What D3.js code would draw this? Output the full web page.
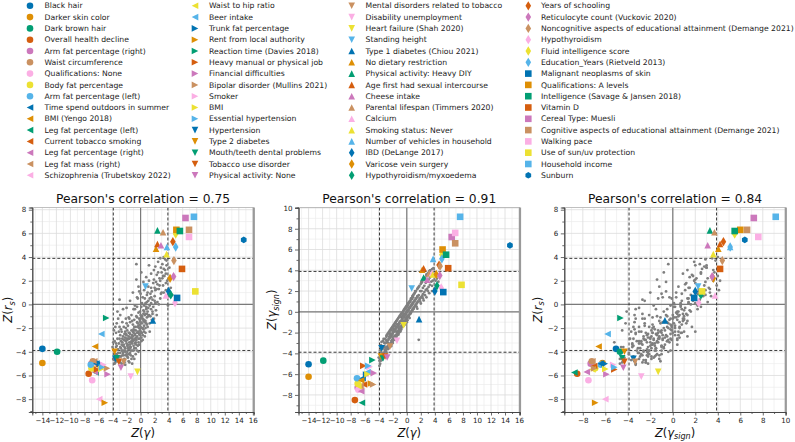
<!DOCTYPE html>
<html><head><meta charset="utf-8">
<script src="https://cdn.jsdelivr.net/npm/d3@7"></script>
<style>body{margin:0;background:#fff} svg{display:block} text{font-family:"DejaVu Sans",sans-serif}</style>
</head><body><svg id="c" width="795" height="442"></svg>
<script>
const traitNames = [
"Black hair","Darker skin color","Dark brown hair","Overall health decline","Arm fat percentage (right)","Waist circumference","Qualifications: None","Body fat percentage","Arm fat percentage (left)","Time spend outdoors in summer","BMI (Yengo 2018)","Leg fat percentage (left)","Current tobacco smoking","Leg fat percentage (right)","Leg fat mass (right)","Schizophrenia (Trubetskoy 2022)",
"Waist to hip ratio","Beer intake","Trunk fat percentage","Rent from local authority","Reaction time (Davies 2018)","Heavy manual or physical job","Financial difficulties","Bipolar disorder (Mullins 2021)","Smoker","BMI","Essential hypertension","Hypertension","Type 2 diabetes","Mouth/teeth dental problems","Tobacco use disorder","Physical activity: None",
"Mental disorders related to tobacco","Disability unemployment","Heart failure (Shah 2020)","Standing height","Type 1 diabetes (Chiou 2021)","No dietary restriction","Physical activity: Heavy DIY","Age first had sexual intercourse","Cheese intake","Parental lifespan (Timmers 2020)","Calcium","Smoking status: Never","Number of vehicles in household","IBD (DeLange 2017)","Varicose vein surgery","Hypothyroidism/myxoedema",
"Years of schooling","Reticulocyte count (Vuckovic 2020)","Noncognitive aspects of educational attainment (Demange 2021)","Hypothyroidism","Fluid intelligence score","Education_Years (Rietveld 2013)","Malignant neoplasms of skin","Qualifications: A levels","Intelligence (Savage & Jansen 2018)","Vitamin D","Cereal Type: Muesli","Cognitive aspects of educational attainment (Demange 2021)","Walking pace","Use of sun/uv protection","Household income","Sunburn"];

const zGamma = [-14.0,-14.0,-11.9,-7.4,-7.0,-6.8,-6.9,-7.0,-7.1,-6.3,-6.5,-6.4,-6.1,-6.5,-6.6,-5.9,
-6.9,-5.6,-5.8,-5.1,-4.9,-6.2,-4.7,-4.8,-5.3,-5.6,-5.5,-3.6,-3.7,-3.4,-3.1,-2.8,
-2.4,-1.4,-0.45,0.7,1.75,2.2,2.4,2.4,2.9,3.2,3.6,3.7,3.75,4.0,4.2,4.3,
4.6,4.7,4.75,4.9,5.0,5.0,5.2,5.1,5.6,5.9,6.4,6.9,6.9,7.8,7.6,14.7];
const zGammaSign = [-5.05,-6.25,-4.7,-8.5,-7.3,-7.2,-7.5,-6.9,-6.4,-6.4,-6.6,-8.75,-7.0,-7.65,-7.15,-6.0,
-7.15,-5.8,-6.05,-6.9,-4.65,-5.2,-5.9,-7.0,-5.3,-6.0,-5.2,-3.5,-4.3,-4.5,-4.3,-4.4,
-3.35,-2.8,-1.3,2.25,-0.7,4.05,3.3,4.2,3.1,3.7,3.75,3.6,5.1,2.0,3.6,2.5,
4.5,3.5,4.4,2.3,5.5,5.1,1.9,6.0,5.5,4.2,7.2,6.6,7.6,2.6,9.15,6.4];
const zRs = [-3.75,-4.95,-4.0,-5.85,-5.0,-4.8,-6.4,-5.4,-5.1,-5.0,-3.55,-5.75,-5.2,-5.7,-4.8,-8.0,
-5.5,-2.5,-5.0,-8.3,-1.15,-5.5,-5.9,-5.4,-5.1,-5.45,-5.3,-4.6,-4.0,-4.55,-4.85,-5.35,
-4.85,-6.1,-5.7,1.5,-1.35,4.7,6.25,5.1,5.0,6.1,0.75,4.25,4.85,1.1,2.2,0.8,
5.3,2.35,3.7,0.15,5.95,4.85,0.55,6.3,6.2,3.0,7.3,6.3,5.7,1.1,7.4,5.45];

// background traits: [Z(gamma), Z(gamma_sign), Z(r_s)]
const grayTraits = [
[-3.9,-4.7,-4.6],[-3.7,-3.2,-3.1],[-3.6,-4.5,-4.9],[-3.5,-3.3,-2.4],[-3.4,-2.8,-4.2],[-3.3,-4.1,-0.6],[-3.2,-3.9,-3.8],[-3.1,-2.6,-4.7],[-3.0,-3.8,-2.9],[-3.0,-2.7,0.4],
[-2.9,-3.6,-3.6],[-2.8,-2.2,-4.4],[-2.8,-3.4,-2.1],[-2.7,-3.3,-5.0],[-2.6,-2.0,-3.2],[-2.6,-3.4,-1.5],[-2.5,-3.1,-4.1],[-2.5,-1.9,-2.7],[-2.4,-3.2,-3.9],[-2.4,-2.1,-1.9],
[-2.3,-3.0,-4.6],[-2.3,-1.7,-3.0],[-2.2,-2.8,-2.3],[-2.2,-3.1,-3.7],[-2.1,-1.5,-4.3],[-2.1,-2.7,-1.2],[-2.0,-2.8,-3.3],[-2.0,-1.4,-2.6],[-1.9,-2.6,-4.0],[-1.9,-1.6,-3.5],
[-1.8,-1.2,-2.9],[-1.8,-2.5,-1.8],[-1.7,-2.3,-3.8],[-1.7,-1.1,-4.8],[-1.6,-2.4,-2.4],[-1.6,-1.4,-3.2],[-1.5,-0.9,-1.5],[-1.5,-2.2,-4.1],[-1.4,-2.0,-2.8],[-1.4,-0.8,-3.6],
[-1.3,-1.9,-2.2],[-1.3,-2.1,-0.9],[-1.2,-1.8,-3.3],[-1.2,-0.6,-2.6],[-1.1,-1.6,-4.4],[-1.1,-1.8,-1.7],[-1.0,-0.4,-3.0],[-1.0,-1.6,-2.1],[-0.9,-1.5,-3.7],[-0.9,-0.3,-1.3],
[-0.8,-1.4,-2.5],[-0.8,-0.5,-0.4],[-0.7,-1.3,-3.2],[-0.7,-0.1,-1.9],[-0.6,-1.2,-2.8],[-0.6,-0.4,3.4],[-0.5,-1.1,-1.1],[-0.5,-0.2,-3.9],[-0.4,0.2,-2.3],[-0.4,-1.1,-1.6],
[-0.3,-0.9,-2.9],[-0.3,0.3,-0.7],[-0.2,-0.8,-2.0],[-0.2,0.4,-3.4],[-0.1,-0.7,-1.4],[-0.1,0.5,-2.6],[0.0,-0.6,-0.9],[0.0,0.6,-1.9],[0.1,-0.5,-3.1],[0.1,0.7,-0.2],
[0.2,-0.4,-1.6],[0.2,0.8,-2.4],[0.3,-0.3,0.6],[0.3,0.9,-1.2],[0.4,-0.2,-2.1],[0.4,1.0,-0.5],[0.5,-0.1,-1.8],[0.5,1.1,1.2],[0.6,0.0,-0.9],[0.6,1.3,-2.7],
[0.7,0.1,0.1],[0.7,1.3,-1.4],[0.8,0.2,-0.2],[0.8,1.5,2.3],[0.9,0.3,-1.1],[0.9,1.6,0.8],[1.0,0.4,-0.6],[1.0,1.7,-1.9],[1.1,0.5,1.5],[1.1,1.8,0.3],
[1.2,0.6,-0.9],[1.2,1.9,2.0],[1.3,0.7,-0.1],[1.3,2.0,-2.3],[1.4,0.8,0.9],[1.5,2.2,-0.4],[1.5,0.9,2.6],[1.6,2.3,1.1],[1.6,1.0,-1.3],[1.7,-2.7,-0.8],
[1.7,2.4,0.4],[1.8,1.2,1.8],[1.8,2.5,-0.2],[1.9,1.3,2.9],[2.0,2.7,0.7],[2.0,1.4,1.4],[2.1,2.8,3.2],[2.2,1.5,-0.5],[2.2,2.9,1.9],[2.3,1.7,2.5],
[2.4,3.1,0.2],[2.5,1.9,3.6],[2.6,3.3,1.3],[2.7,2.1,2.2],[2.8,3.5,3.9],[2.9,2.2,0.9],[3.0,3.7,2.7],[3.1,2.4,3.4],[3.2,3.9,1.6],[3.3,2.6,3.0],
[3.4,4.0,2.4],[3.5,2.9,3.8],[3.6,4.1,1.2],[3.7,3.0,3.3],[3.8,4.2,2.0],[4.0,3.4,0.7],[4.1,3.0,3.1],[4.3,3.2,1.4],[4.5,2.9,0.8],[3.9,2.2,-0.1],
[-3.8,-5.0,-3.9],[-3.6,-2.9,-4.4],[-3.5,-4.6,-3.6],[-3.3,-2.6,-2.9],[-3.2,-4.3,-4.5],[-3.1,-3.0,-3.3],[-2.9,-2.3,-2.6],[-2.9,-3.9,-4.1],[-2.7,-3.6,-3.4],[-2.7,-2.1,-3.9],
[-2.6,-3.5,-2.9],[-2.5,-2.4,-4.7],[-2.4,-1.8,-3.4],[-2.3,-3.3,-2.5],[-2.2,-1.6,-3.9],[-2.1,-3.0,-3.1],[-2.0,-2.1,-4.2],[-1.9,-1.3,-2.2],[-1.8,-2.7,-3.4],[-1.8,-1.7,-4.5],
[-1.7,-2.6,-2.7],[-1.6,-1.0,-3.6],[-1.6,-2.5,-1.2],[-1.5,-1.5,-2.5],[-1.4,-2.3,-3.2],[-1.4,-1.2,-4.3],[-1.3,-0.7,-2.8],[-1.2,-2.1,-3.9],[-1.2,-1.2,-1.4],[-1.1,-0.5,-3.1],
[-1.0,-1.8,-2.4],[-1.0,-1.0,-3.5],[-0.9,-1.7,-1.9],[-0.8,-0.2,-2.9],[-0.8,-1.6,-3.3],[-0.7,-0.7,-2.2],[-0.6,-1.4,-1.0],[-0.6,-0.1,-3.0],[-0.5,-1.3,-2.4],[-0.5,0.1,-0.2],
[-0.4,-1.0,-3.5],[-0.3,0.2,-1.8],[-0.3,-1.0,-2.4],[-0.2,-0.2,-1.2],[-0.1,0.4,-2.9],[-0.1,-0.8,-0.6],[0.0,0.5,-2.3],[0.0,-0.7,-1.5],[0.1,0.6,-2.8],[0.2,-0.5,-1.0],
[0.2,0.7,0.1],[0.3,-0.4,-2.0],[0.4,0.9,-1.4],[0.5,-0.2,-0.1],[0.5,1.0,-2.3],[0.6,-0.1,0.5],[0.7,1.2,-0.8],[0.8,0.1,-1.6],[0.9,1.4,0.2],[1.0,0.3,1.0],
[-2.0,-3.0,-0.3],[-1.5,-2.5,0.3],[-1.1,-2.0,1.0],[-0.6,-1.4,2.1],[-0.3,-1.2,1.5],[0.1,-0.8,2.7],[-0.4,-1.3,0.5],[-0.8,-1.7,-0.1],[0.4,-0.6,1.9],[0.0,-1.0,0.9],
[-3.4,-4.2,-1.6],[-2.9,-3.4,-0.9],[-2.5,-3.3,-0.4],[-3.8,-4.5,-2.2],[-3.9,-5.2,-3.2],[-3.7,-4.7,-5.0],[-2.2,-3.3,-5.1],[-1.2,-2.2,-5.0],[-0.9,-1.9,-4.6],[-1.6,-2.7,-4.9],
[1.2,2.0,3.3],[1.9,1.0,-1.2],[2.3,1.3,-0.9],[2.6,1.6,0.0],[3.0,2.0,1.0],[2.1,2.9,1.2],[1.4,0.5,-1.0],[2.8,3.6,2.0],[3.3,4.0,4.0],[3.6,2.5,2.6],
[-3.0,-3.5,-4.4],[-2.8,-2.9,-3.7],[-2.6,-2.7,-4.3],[-2.4,-2.5,-3.0],[-2.2,-2.3,-4.0],[-2.0,-2.0,-2.9],[-1.8,-1.9,-3.7],[-1.6,-1.7,-2.9],[-1.4,-1.5,-3.9],[-1.2,-1.3,-2.9],
[-1.0,-1.0,-3.9],[-0.8,-0.9,-2.6],[-0.6,-0.7,-3.4],[-0.4,-0.5,-1.9],[-0.2,-0.2,-2.5],[0.0,0.0,-1.2],[0.2,0.2,-2.0],[0.4,0.4,-0.8],[0.6,0.6,-1.5],[0.8,0.8,-0.4],
[-2.9,-2.4,-4.9],[-2.7,-3.0,-2.3],[-2.5,-2.0,-3.5],[-2.3,-2.4,-4.9],[-2.1,-1.8,-2.0],[-1.9,-2.4,-3.0],[-1.7,-1.4,-4.2],[-1.5,-1.9,-3.4],[-1.3,-1.2,-4.6],[-1.1,-1.1,-2.3],
[-0.9,-0.9,-3.0],[-0.7,-1.0,-4.2],[-0.5,-0.5,-2.7],[-0.3,-0.4,-4.0],[-0.1,-0.2,-1.7],[0.1,0.0,-2.4],[0.3,0.4,-3.0],[0.5,0.5,-0.6],[0.7,0.6,-2.0],[0.9,0.9,-0.8],
[-3.5,-3.6,-3.3],[-3.3,-3.4,-4.8],[-3.1,-3.7,-2.3],[-3.6,-3.9,-4.2],[-3.2,-3.3,-1.2],[-2.0,-2.5,-1.6],[-1.7,-1.8,-1.1],[-1.0,-1.5,-0.4],[-0.5,-0.9,0.6],[-0.2,-0.6,1.1],
[1.1,1.1,-0.3],[1.3,1.3,0.5],[1.5,1.5,1.4],[1.7,1.6,-0.6],[1.9,2.0,2.1],[2.1,2.0,0.1],[2.3,2.3,1.3],[2.5,2.5,2.7],[2.7,2.8,1.6],[2.9,3.0,3.1],
[3.1,3.1,2.2],[3.3,3.3,1.0],[3.5,3.6,2.9],[3.7,3.8,3.7],[2.0,0.8,0.3],[2.4,1.1,1.7],[2.8,1.4,0.5],[3.2,1.8,2.4],[3.6,2.0,1.8],[1.5,0.3,0.6],
[-2.3,-2.2,-3.6],[-2.1,-2.2,-2.5],[-1.9,-1.9,-4.4],[-1.7,-1.8,-2.4],[-1.5,-1.5,-3.7],[-1.3,-1.4,-3.1],[-1.1,-1.2,-2.7],[-0.9,-1.0,-2.2],[-0.7,-0.8,-3.7],[-0.5,-0.5,-1.5],
[-0.3,-0.3,-3.2],[-0.1,-0.1,-2.2],[0.1,0.1,-1.1],[0.3,0.2,-2.6],[0.5,0.4,-1.3],[0.7,0.7,-2.4],[0.9,0.8,-1.7],[1.1,1.0,-1.0],[1.3,1.2,-1.6],[1.5,1.4,0.1],
[-4.0,-4.4,-3.6],[-3.8,-3.7,-4.7],[-3.6,-3.5,-1.9],[-3.4,-3.5,-3.5],[-3.2,-3.0,-4.1],[-3.0,-3.0,-1.9],[-2.8,-2.8,-3.1],[-2.6,-2.6,-3.9],[-2.4,-2.3,-4.3],[-2.2,-2.2,-2.8]
];

const pearsonR = ["0.75","0.91","0.84"];
const threshold = 3.89;
const palette = ["#0173b2","#de8f05","#029e73","#d55e0f","#cc78bc","#ca9161","#fbafe4","#ece133","#56b4e9"];
const shapeOrder = ["circle","tri_left","tri_right","tri_down","tri_up","thin_diamond","square","hexagon"];

const cols = [zGamma, zGammaSign, zRs];
const grayCols = [0,1,2].map(k => grayTraits.map(p => p[k]));

function markerPath(shape, m){
  const h = m/2;
  switch(shape){
    case "circle": return `M${h},0A${h},${h} 0 1,1 ${-h},0A${h},${h} 0 1,1 ${h},0Z`;
    case "square": return `M${-h},${-h}H${h}V${h}H${-h}Z`;
    case "tri_up": return `M0,${-h}L${h},${h}L${-h},${h}Z`;
    case "tri_down": return `M0,${h}L${h},${-h}L${-h},${-h}Z`;
    case "tri_left": return `M${-h},0L${h},${-h}L${h},${h}Z`;
    case "tri_right": return `M${h},0L${-h},${-h}L${-h},${h}Z`;
    case "thin_diamond": { const a = h*Math.SQRT2; return `M0,${-a}L${0.6*a},0L0,${a}L${-0.6*a},0Z`; }
    case "hexagon": { const pts = d3.range(6).map(k => { const ang = -Math.PI/2 + k*Math.PI/3; return [h*Math.cos(ang), h*Math.sin(ang)]; }); return "M" + pts.map(p => p.join(",")).join("L") + "Z"; }
  }
}
const styleOf = i => ({color: palette[i % 9], shape: shapeOrder[Math.floor(i/9)]});

const svg = d3.select("#c");
const MS = 6.6;

// ---------- Legend ----------
const legendCols = [{mx:30, tx:44.5},{mx:195, tx:209},{mx:351.7, tx:365.5},{mx:528.3, tx:541}];
const lg = svg.append("g");
traitNames.forEach((name, i) => {
  const c = legendCols[Math.floor(i/16)], row = i % 16;
  const y = 5.8 + row*11.3;
  const st = styleOf(i);
  lg.append("path").attr("d", markerPath(st.shape, MS)).attr("transform", `translate(${c.mx},${y})`).attr("fill", st.color);
  lg.append("text").attr("x", c.tx).attr("y", y).attr("dy", "0.35em").attr("font-size", 7.7).attr("fill", "#222").text(name);
});

// ---------- Panels ----------
const TOP = 207.5, BOT = 412, PW = 221.5;
const panels = [
  {left:32.3, xk:0, yk:2, xlab:["γ",null], ylab:["r","s"], ylx:8.3},
  {left:298.5, xk:0, yk:1, xlab:["γ",null], ylab:["γ","sign"], ylx:272},
  {left:564.3, xk:1, yk:2, xlab:["γ","sign"], ylab:["r","s"], ylx:537.5}
];
const fmt = d3.format("d");

function domainOf(k){
  const all = cols[k].concat(grayCols[k]);
  const [a,b] = d3.extent(all); const m = (b-a)*0.05;
  return [a-m, b+m];
}

function addMathLabel(t, sym, sub, fs){
  t.append("tspan").attr("font-style","italic").text("Z");
  t.append("tspan").text("(");
  t.append("tspan").attr("font-style","italic").text(sym);
  if (sub){
    t.append("tspan").attr("font-style","italic").attr("font-size", fs*0.7).attr("dy", fs*0.22).text(sub);
    t.append("tspan").attr("dy", -fs*0.22).text(")");
  } else t.append("tspan").text(")");
}

panels.forEach((p, pi) => {
  const x = d3.scaleLinear().domain(domainOf(p.xk)).range([p.left, p.left+PW]);
  const y = d3.scaleLinear().domain(domainOf(p.yk)).range([BOT, TOP]);
  const g = svg.append("g");
  const xd = x.domain(), yd = y.domain();
  const xMaj = d3.range(Math.ceil(xd[0]/2)*2, xd[1]+1e-9, 2);
  const yMaj = d3.range(Math.ceil(yd[0]/2)*2, yd[1]+1e-9, 2);
  const xMin = d3.range(Math.ceil(xd[0]), xd[1]+1e-9, 1).filter(v => Math.abs(v%2) === 1);
  const yMin = d3.range(Math.ceil(yd[0]), yd[1]+1e-9, 1).filter(v => Math.abs(v%2) === 1);

  // grid
  const gg = g.append("g");
  xMin.forEach(v => gg.append("line").attr("x1", x(v)).attr("x2", x(v)).attr("y1", TOP).attr("y2", BOT).attr("stroke", "#ececec").attr("stroke-width", 0.7));
  yMin.forEach(v => gg.append("line").attr("y1", y(v)).attr("y2", y(v)).attr("x1", p.left).attr("x2", p.left+PW).attr("stroke", "#ececec").attr("stroke-width", 0.7));
  xMaj.forEach(v => gg.append("line").attr("x1", x(v)).attr("x2", x(v)).attr("y1", TOP).attr("y2", BOT).attr("stroke", "#dcdcdc").attr("stroke-width", 0.8));
  yMaj.forEach(v => gg.append("line").attr("y1", y(v)).attr("y2", y(v)).attr("x1", p.left).attr("x2", p.left+PW).attr("stroke", "#dcdcdc").attr("stroke-width", 0.8));

  // zero lines
  g.append("line").attr("x1", x(0)).attr("x2", x(0)).attr("y1", TOP).attr("y2", BOT).attr("stroke", "#7a7a7a").attr("stroke-width", 1.2);
  g.append("line").attr("y1", y(0)).attr("y2", y(0)).attr("x1", p.left).attr("x2", p.left+PW).attr("stroke", "#7a7a7a").attr("stroke-width", 1.2);
  // threshold lines
  [-threshold, threshold].forEach(v => {
    g.append("line").attr("x1", x(v)).attr("x2", x(v)).attr("y1", TOP).attr("y2", BOT).attr("stroke", "#222").attr("stroke-width", 0.9).attr("stroke-dasharray", "3,2");
    g.append("line").attr("y1", y(v)).attr("y2", y(v)).attr("x1", p.left).attr("x2", p.left+PW).attr("stroke", "#222").attr("stroke-width", 0.9).attr("stroke-dasharray", "3,2");
  });

  // gray points
  g.append("g").selectAll("circle").data(grayTraits).join("circle")
    .attr("cx", d => x(d[p.xk])).attr("cy", d => y(d[p.yk])).attr("r", 1.4).attr("fill", "#7f7f7f");

  // trait markers
  traitNames.forEach((n, i) => {
    const st = styleOf(i);
    g.append("path").attr("d", markerPath(st.shape, MS))
      .attr("transform", `translate(${x(cols[p.xk][i])},${y(cols[p.yk][i])})`).attr("fill", st.color);
  });

  // spines
  g.append("line").attr("x1", p.left).attr("x2", p.left+PW).attr("y1", TOP).attr("y2", TOP).attr("stroke", "#b0b0b0").attr("stroke-width", 0.8);
  g.append("line").attr("x1", p.left+PW).attr("x2", p.left+PW).attr("y1", TOP).attr("y2", BOT).attr("stroke", "#9a9a9a").attr("stroke-width", 2.2);

  // axes
  const ax = g.append("g").attr("transform", `translate(0,${BOT})`)
    .call(d3.axisBottom(x).tickValues(xMaj).tickFormat(fmt).tickSize(3.5).tickPadding(2.5));
  const axm = g.append("g").attr("transform", `translate(0,${BOT})`)
    .call(d3.axisBottom(x).tickValues(xMin).tickFormat("").tickSize(2));
  const ay = g.append("g").attr("transform", `translate(${p.left},0)`)
    .call(d3.axisLeft(y).tickValues(yMaj).tickFormat(fmt).tickSize(3.5).tickPadding(2.5));
  const aym = g.append("g").attr("transform", `translate(${p.left},0)`)
    .call(d3.axisLeft(y).tickValues(yMin).tickFormat("").tickSize(2));
  [ax, axm, ay, aym].forEach(a => {
    a.select(".domain").attr("stroke", "#444").attr("stroke-width", 0.9);
    a.selectAll(".tick line").attr("stroke", "#444").attr("stroke-width", 0.8);
    a.selectAll(".tick text").attr("font-family", "DejaVu Sans").attr("font-size", 7.1).attr("fill", "#222");
  });

  // title
  g.append("text").attr("x", p.left+PW/2).attr("y", 202.5).attr("text-anchor", "middle")
    .attr("font-size", 12.3).attr("fill", "#111").text(`Pearson's correlation = ${pearsonR[pi]}`);

  // x label
  const xl = g.append("text").attr("x", p.left+PW/2).attr("y", 436.5).attr("text-anchor", "middle").attr("font-size", 11.5).attr("fill", "#111");
  addMathLabel(xl, p.xlab[0], p.xlab[1], 11.5);
  // y label
  const yl = g.append("text").attr("transform", `translate(${p.ylx+4},${(TOP+BOT)/2}) rotate(-90)`).attr("text-anchor", "middle").attr("font-size", 11.5).attr("fill", "#111");
  addMathLabel(yl, p.ylab[0], p.ylab[1], 11.5);
});
</script></body></html>
